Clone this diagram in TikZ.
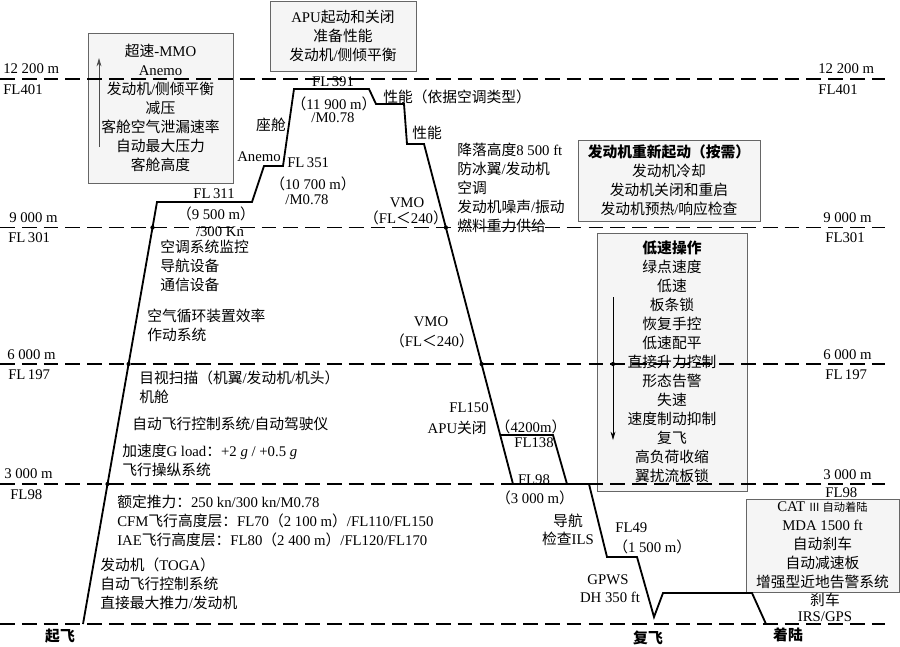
\documentclass[tikz,border=0pt]{standalone}
\usepackage{fontspec}
\setmainfont{Liberation Serif}
\newfontfamily\latin{Liberation Serif}
\newfontfamily\cjk{Noto Sans CJK SC}
\usetikzlibrary{arrows.meta}

% switch to the CJK font on Chinese characters
\makeatletter
\count@="4E00
\loop\XeTeXcharclass\count@=1 \advance\count@ by 1 \ifnum\count@<"A000 \repeat
\makeatother
\XeTeXcharclass"FF08=1 \XeTeXcharclass"FF09=1 \XeTeXcharclass"FF1A=1
\XeTeXcharclass"FF1C=1 \XeTeXcharclass"2162=1
\XeTeXinterchartoks 0 1 = {\cjk}
\XeTeXinterchartoks 4095 1 = {\cjk}
\XeTeXinterchartoks 1 0 = {\latin}
\XeTeXinterchartokenstate=1

\begin{document}
\begin{tikzpicture}[x=0.025cm, y=-0.025cm,
    every node/.style={font=\fontsize{10.5}{13.5}\selectfont, inner sep=0pt},
    infobox/.style={draw=gray!80!black, fill=gray!8, align=center, line width=0.6pt},
    altline/.style={dash pattern=on 10.5pt off 5pt, line width=1.2pt},
    profile/.style={line width=1.3pt},
    lbl/.style={anchor=west, align=left},
    crossdot/.style={fill, circle, minimum size=3pt}]
    \useasboundingbox (0,0) rectangle (900,646);

    % boxes
    \node[infobox, minimum width=3.625cm, minimum height=3.75cm] (b1) at (160.5,108) {超速-MMO\\Anemo\\发动机/侧倾平衡\\减压\\客舱空气泄漏速率\\自动最大压力\\客舱高度};
    \node[infobox, minimum width=3.65cm, minimum height=1.75cm] (b2) at (343,36) {APU起动和关闭\\准备性能\\发动机/侧倾平衡};
    \node[infobox, minimum width=4.55cm, minimum height=2.025cm] (b3) at (669,180.5) {{\bfseries 发动机重新起动（按需）}\\发动机冷却\\发动机关闭和重启\\发动机预热/响应检查};
    \node[infobox, minimum width=3.75cm, minimum height=6.45cm] (b4) at (672,362) {{\bfseries 低速操作}\\绿点速度\\低速\\板条锁\\恢复手控\\低速配平\\直接升力控制\\形态告警\\失速\\速度制动抑制\\复飞\\高负荷收缩\\翼扰流板锁};
    \node[infobox, minimum width=3.825cm, minimum height=2.325cm] (b5) at (822.5,545.5) {CAT {\fontsize{8}{10}\selectfont Ⅲ 自动着陆}\\MDA 1500 ft\\自动刹车\\自动减速板\\增强型近地告警系统};

    \coordinate (a1s) at (99,147);
    \coordinate (a1e) at (99,58);
    \coordinate (a4s) at (613,297);
    \coordinate (a4e) at (613,440);
    \draw[-{Stealth[length=6pt,width=3.5pt]}, gray!60!black, line width=0.6pt] (a1s) -- (a1e);
    \draw[-{Stealth[length=6pt,width=3.5pt]}, line width=0.6pt] (a4s) -- (a4e);

    % altitude labels
    \node[anchor=west] (h1l) at (3,69) {12 200 m};
    \node[anchor=west] (f1l) at (3,90) {FL401};
    \node[anchor=west] (h2l) at (9,218) {9 000 m};
    \node[anchor=west] (f2l) at (8,238) {FL\,301};
    \node[anchor=west] (h3l) at (7,355) {6 000 m};
    \node[anchor=west] (f3l) at (8,375) {FL\,197};
    \node[anchor=west] (h4l) at (4,474) {3 000 m};
    \node[anchor=west] (f4l) at (10,495) {FL98};
    \node[anchor=west] (h1r) at (818,69) {12 200 m};
    \node[anchor=west] (f1r) at (818,90) {FL401};
    \node[anchor=west] (h2r) at (823,218) {9 000 m};
    \node[anchor=west] (f2r) at (825,238) {FL301};
    \node[anchor=west] (h3r) at (823,355) {6 000 m};
    \node[anchor=west] (f3r) at (825,375) {FL\,197};
    \node[anchor=west] (h4r) at (823,475) {3 000 m};
    \node[anchor=west] (f4r) at (825,493) {FL98};

    % climb
    \node (fl311) at (214,194) {FL\,311};
    \node (m9500) at (216,214) {（9 500 m）};
    \node (kn300) at (220,232) {/300 Kn};
    \node[anchor=east] (anemo) at (281,157) {Anemo};
    \node[anchor=west] (fl351) at (287,163) {FL\,351};
    \node (m10700) at (313,184) {（10 700 m）};
    \node (mach1) at (307,200) {/M0.78};
    \node (cabin) at (271,125) {座舱};
    \node (fl391) at (333,82) {FL\,391};
    \node (m11900) at (334,104) {（11 900 m）};
    \node (mach2) at (333,118) {/M0.78};
    \node[lbl] (c1) at (160,265.5) {空调系统监控\\导航设备\\通信设备};
    \node[lbl] (c2) at (147,325.5) {空气循环装置效率\\作动系统};
    \node[lbl] (c3) at (139,387.5) {目视扫描（机翼/发动机/机头）\\机舱};
    \node[lbl] (c4) at (132,424) {自动飞行控制系统/自动驾驶仪};
    \node[lbl] (c5) at (122,460) {加速度G load：+2 \textit{g} / +0.5 \textit{g}\\飞行操纵系统};
    \node[lbl] (c6) at (117,521) {额定推力：250 kn/300 kn/M0.78\\CFM飞行高度层：FL70（2 100 m）/FL110/FL150\\IAE飞行高度层：FL80（2 400 m）/FL120/FL170};
    \node[lbl] (c7) at (100,584) {发动机（TOGA）\\自动飞行控制系统\\直接最大推力/发动机};
    \node[font=\fontsize{10.5}{13.5}\selectfont\bfseries] (takeoff) at (60,636) {起飞};

    % descent
    \node[anchor=west] (perf1) at (383,97) {性能（依据空调类型）};
    \node[anchor=west] (perf2) at (412,133) {性能};
    \node[lbl] (d1) at (457,188) {降落高度8 500 ft\\防冰翼/发动机\\空调\\发动机噪声/振动\\燃料重力供给};
    \node (vmo1) at (407,203) {VMO};
    \node (vfl1) at (406,218) {（FL＜240）};
    \node (vmo2) at (431,322) {VMO};
    \node (vfl2) at (432,341) {（FL＜240）};
    \node (fl150) at (469,408) {FL150};
    \node[anchor=east] (apu) at (487,428) {APU关闭};
    \node (m4200) at (531,427) {（4200m）};
    \node (fl138) at (534,443) {FL138};
    \node (fl98) at (534,480) {FL98};
    \node (m3000) at (535,498) {（3 000 m）};
    \node (nav) at (568,521) {导航};
    \node (ils) at (568,539) {检查ILS};
    \node[anchor=west] (fl49) at (615,528) {FL49};
    \node[anchor=west] (m1500) at (613,547) {（1 500 m）};
    \node (gpws) at (608,580) {GPWS};
    \node (dh) at (610,597) {DH 350 ft};
    \node[font=\fontsize{10.5}{13.5}\selectfont\bfseries] (goaround) at (648,638) {复飞};
    \node (brake) at (825,600) {刹车};
    \node (irs) at (825,617) {IRS/GPS};
    \node[font=\fontsize{10.5}{13.5}\selectfont\bfseries] (landing) at (788,635) {着陆};

    % altitude lines
    \coordinate (l1a) at (0,79);    \coordinate (l1b) at (885,79);
    \coordinate (l2a) at (0,227.5); \coordinate (l2b) at (885,227.5);
    \coordinate (l3a) at (0,364);   \coordinate (l3b) at (885,364);
    \coordinate (l4a) at (0,484);   \coordinate (l4b) at (885,484);
    \coordinate (l5a) at (0,624);   \coordinate (l5b) at (885,624);
    \draw[altline] (l1a) -- (l1b);
    \draw[altline] (l2a) -- (l2b);
    \draw[altline] (l3a) -- (l3b);
    \draw[altline] (l4a) -- (l4b);
    \draw[altline] (l5a) -- (l5b);

    % flight profile
    \coordinate (p0) at (83,624);
    \coordinate (p1) at (157,202);
    \coordinate (p2) at (252,202);
    \coordinate (p3) at (264,166);
    \coordinate (p4) at (283,166);
    \coordinate (p5) at (294,89);
    \coordinate (p6) at (369,89);
    \coordinate (p7) at (376,104);
    \coordinate (p8) at (404,104);
    \coordinate (p9) at (407,144);
    \coordinate (p10) at (424,144);
    \coordinate (p11) at (513,484);
    \coordinate (p12) at (589,484);
    \coordinate (p13) at (607,557);
    \coordinate (p14) at (637,557);
    \coordinate (p15) at (654,617);
    \coordinate (p16) at (663,593);
    \coordinate (p17) at (752,593);
    \coordinate (p18) at (766,624);
    \coordinate (q0) at (500.2,435);
    \coordinate (q1) at (553,435);
    \coordinate (q2) at (567,484);
    \draw[profile] (p0) -- (p1) -- (p2) -- (p3) -- (p4) -- (p5) -- (p6) -- (p7) -- (p8) -- (p9) -- (p10) -- (p11) -- (p12) -- (p13) -- (p14) -- (p15) -- (p16) -- (p17) -- (p18);
    \draw[profile] (q0) -- (q1) -- (q2);

    \node[crossdot] (x1) at (107.5,484) {};
    \node[crossdot] (x2) at (128.6,364) {};
    \node[crossdot] (x3) at (152.5,227.5) {};
    \node[crossdot] (x4) at (481.6,364) {};
    \node[crossdot] (x5) at (445.9,227.5) {};
    \node[crossdot] (x6) at (613,364) {};
\end{tikzpicture}
\end{document}
